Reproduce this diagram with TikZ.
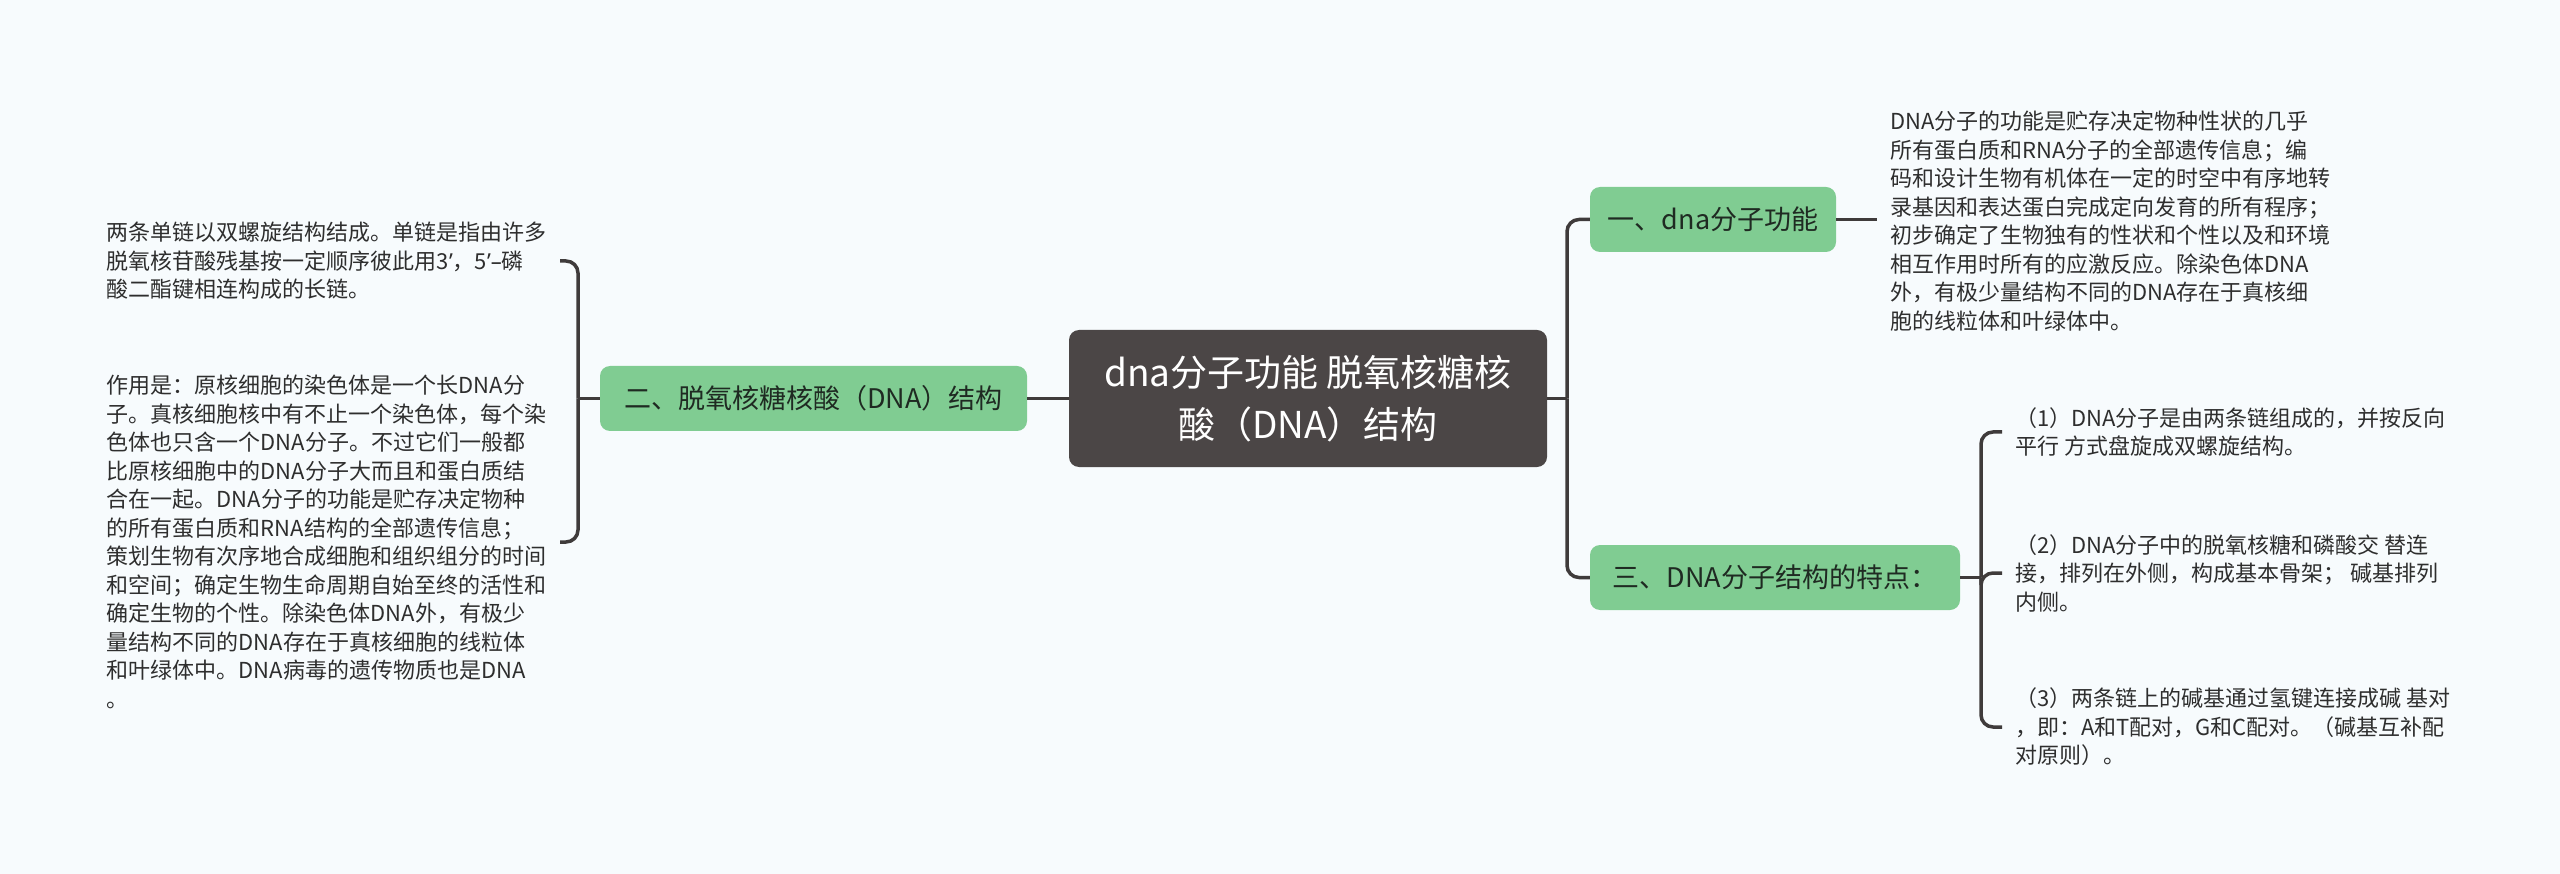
\documentclass[tikz,border=0pt]{standalone}
\usepackage{fontspec}
\setmainfont{Noto Sans CJK SC}
\newfontfamily\latinf{Noto Sans}
\usepackage{tikz}
\usetikzlibrary{positioning,calc}

\definecolor{bgcol}{HTML}{F7FBFD}
\definecolor{rootcol}{HTML}{4B4646}
\definecolor{topiccol}{HTML}{80CC92}
\definecolor{topictxt}{HTML}{1F2A22}
\definecolor{linecol}{HTML}{3F3B3B}
\definecolor{txtcol}{HTML}{2E2E2E}

\tikzset{
  root node/.style={fill=rootcol, rounded corners=10pt, text=white, align=center,
    minimum width=478pt, minimum height=137pt, inner sep=0pt,
    font=\fontsize{37}{52}\selectfont},
  topic/.style={fill=topiccol, rounded corners=10pt, text=topictxt,
    minimum height=65pt, inner sep=0pt, font=\fontsize{27}{32}\selectfont},
  leaf/.style={text=txtcol, align=left, inner xsep=13pt, inner ysep=0pt,
    font=\fontsize{22}{28.5}\selectfont},
  link/.style={draw=linecol, line width=3.5pt, rounded corners=12pt}
}

\begin{document}
\begin{tikzpicture}[x=1pt, y=-1pt]

\fill[bgcol] (0,0) rectangle (2560,874);
\useasboundingbox (0,0) rectangle (2560,874);

% centre and the three topics
\node [root node] (root) at (1308,398.5) {dna分子功能 脱氧核糖核\\酸（DNA）结构};

\node [topic, minimum width=246pt] (sec1) at (1713,219.5) {一、dna分子功能};
\node [topic, minimum width=427pt] (sec2) at (813.5,398.5) {二、脱氧核糖核酸（DNA）结构};
\node [topic, minimum width=370pt] (sec3) at (1775,577.5) {三、DNA分子结构的特点：};

% leaves
\node [leaf, anchor=west] (fun) at (1877,221) {DNA分子的功能是贮存决定物种性状的几乎\\
所有蛋白质和RNA分子的全部遗传信息；编\\
码和设计生物有机体在一定的时空中有序地转\\
录基因和表达蛋白完成定向发育的所有程序；\\
初步确定了生物独有的性状和个性以及和环境\\
相互作用时所有的应激反应。除染色体DNA\\
外，有极少量结构不同的DNA存在于真核细\\
胞的线粒体和叶绿体中。};

\node [leaf, anchor=east] (chain) at (560,261) {两条单链以双螺旋结构结成。单链是指由许多\\
脱氧核苷酸残基按一定顺序彼此用3{\latinf ’}，5{\latinf ’–}磷\\
酸二酯键相连构成的长链。};

\node [leaf, anchor=east] (role) at (560,542) {作用是：原核细胞的染色体是一个长DNA分\\
子。真核细胞核中有不止一个染色体，每个染\\
色体也只含一个DNA分子。不过它们一般都\\
比原核细胞中的DNA分子大而且和蛋白质结\\
合在一起。DNA分子的功能是贮存决定物种\\
的所有蛋白质和RNA结构的全部遗传信息；\\
策划生物有次序地合成细胞和组织组分的时间\\
和空间；确定生物生命周期自始至终的活性和\\
确定生物的个性。除染色体DNA外，有极少\\
量结构不同的DNA存在于真核细胞的线粒体\\
和叶绿体中。DNA病毒的遗传物质也是DNA\\
。};

\node [leaf, anchor=west] (feat-1) at (2002,432) {（1）DNA分子是由两条链组成的，并按反向\\
平行 方式盘旋成双螺旋结构。};
\node [leaf, anchor=west] (feat-2) at (2002,573) {（2）DNA分子中的脱氧核糖和磷酸交 替连\\
接，排列在外侧，构成基本骨架； 碱基排列\\
内侧。};
\node [leaf, anchor=west] (feat-3) at (2002,727) {（3）两条链上的碱基通过氢键连接成碱 基对\\
，即：A和T配对，G和C配对。（碱基互补配\\
对原则）。};

% branch points
\coordinate (rfork) at (1567,398.5);
\coordinate (lfork) at (578,398.5);
\coordinate (ffork) at (1981,577.5);

\draw [link] (root.east) -- (rfork);
\foreach \s in {sec1,sec3}
  \draw [link] (rfork) |- (\s.west);

\draw [link] (root.west) -- (sec2.east);
\draw [link] (sec2.west) -- (lfork);
\foreach \l in {chain,role}
  \draw [link] (lfork) |- (\l.east);

\draw [link] (sec1.east) -- (sec1.east -| fun.west);

\draw [link] (sec3.east) -- (ffork);
\foreach \i in {1,...,3}
  \draw [link] (ffork) |- (feat-\i.west);

\end{tikzpicture}
\end{document}
